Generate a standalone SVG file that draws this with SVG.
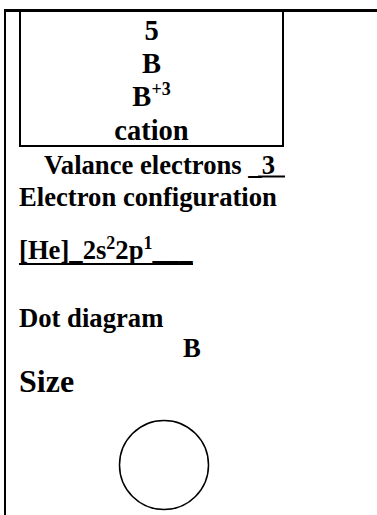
<svg xmlns="http://www.w3.org/2000/svg" width="377" height="515" viewBox="0 0 377 515">
<style>
text { font-family: "Liberation Serif", "Times New Roman", serif; font-weight: bold; fill: #000; }
.box { font-size: 28.5px; text-anchor: middle; }
.lbl { font-size: 26.67px; }
.big { font-size: 32px; }
.sup { font-size: 18px; }
.ln { stroke: #000; fill: none; }
</style>
<g id="frame">
<line class="ln" x1="4" y1="10.5" x2="377" y2="10.5" stroke-width="3"/>
<line class="ln" x1="5" y1="9" x2="5" y2="515" stroke-width="2"/>
</g>
<g id="element-box">
<rect class="ln" x="20" y="10.5" width="263" height="135.5" stroke-width="2"/>
<text class="box" x="151.5" y="40">5</text>
<text class="box" x="151.5" y="73">B</text>
<text class="box" x="151.5" y="106">B<tspan class="sup" dy="-11">+3</tspan></text>
<text class="box" x="151.5" y="140">cation</text>
</g>
<g id="valence">
<text class="lbl" x="44" y="174">Valance electrons _3</text>
<line class="ln" x1="258" y1="176.5" x2="285" y2="176.5" stroke-width="2"/>
</g>
<g id="config">
<text class="lbl" x="19" y="206">Electron configuration</text>
<text class="lbl" x="19" y="259">[He]_2s<tspan class="sup" dy="-10">2</tspan><tspan dy="10">2p</tspan><tspan class="sup" dy="-10">1</tspan><tspan dy="10">___</tspan></text>
<line class="ln" x1="19" y1="264" x2="193" y2="264" stroke-width="2"/>
</g>
<g id="dot">
<text class="lbl" x="19" y="327">Dot diagram</text>
<text class="lbl" x="183" y="357">B</text>
</g>
<g id="size">
<text class="big" x="19" y="392">Size</text>
<circle class="ln" cx="164" cy="465" r="44.5" stroke-width="1.5"/>
</g>
</svg>
